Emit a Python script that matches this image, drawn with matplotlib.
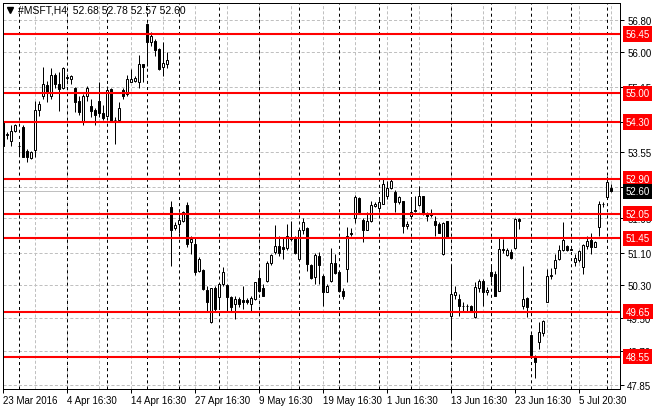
import matplotlib
matplotlib.use("Agg")
import matplotlib.pyplot as plt
import matplotlib.transforms as mtransforms
from matplotlib.lines import Line2D

plt.rcParams['font.family'] = ['Liberation Sans', 'DejaVu Sans']
plt.rcParams['lines.scale_dashes'] = False

# H4 candles, one per bar index
opens = [54.29, 53.98, 53.84, 54.08, 53.72, 54.17, 53.58, 53.41, 53.62, 54.59,
         54.94, 55.20, 54.94, 55.45, 55.23, 55.12, 55.38, 55.35, 55.14, 54.82,
         54.33, 54.92, 54.68, 54.59, 54.80, 54.51, 54.45, 55.10, 54.35, 54.35,
         55.09, 54.98, 55.28, 55.30, 55.27, 55.71, 56.69, 56.26, 56.29, 56.08,
         55.63, 55.72, 52.21, 51.69, 51.79, 51.88, 52.27, 51.35, 51.31, 50.64,
         50.68, 50.18, 49.39, 50.22, 50.00, 50.33, 50.31, 50.02, 49.84, 49.96,
         49.94, 49.94, 49.84, 49.96, 50.47, 50.22, 50.41, 50.84, 51.12, 51.27,
         51.23, 51.20, 51.45, 51.45, 50.94, 51.64, 51.69, 50.79, 50.49, 51.02,
         50.52, 50.14, 50.41, 50.84, 50.62, 50.17, 50.70, 51.58, 51.94, 52.43,
         51.90, 51.66, 51.88, 52.23, 52.18, 52.30, 52.49, 52.67, 52.59, 52.33,
         52.35, 51.74, 51.99, 52.15, 52.26, 52.48, 52.04, 52.06, 51.88, 51.81,
         51.06, 51.86, 49.55, 50.06, 49.96, 49.80, 49.78, 49.80, 49.51, 50.22,
         50.41, 50.13, 50.62, 50.57, 50.17, 51.19, 51.04, 51.12, 51.20, 51.92,
         49.78, 49.99, 49.08, 48.55, 48.90, 49.13, 49.90, 50.52, 50.71, 50.93,
         51.15, 51.27, 51.17, 50.86, 50.92, 50.75, 51.27, 51.41, 51.24, 51.72,
         52.28, 52.47, 52.68]
highs = [54.33, 54.06, 54.22, 54.25, 53.76, 54.22, 53.63, 53.59, 54.82, 54.82,
         55.65, 55.31, 55.61, 55.50, 55.51, 55.63, 55.41, 55.45, 55.16, 54.94,
         54.98, 55.17, 54.86, 54.65, 55.28, 54.70, 55.17, 55.14, 54.41, 54.78,
         55.14, 55.45, 55.59, 55.43, 55.94, 55.72, 56.72, 56.49, 56.33, 56.10,
         56.25, 56.00, 52.37, 51.84, 52.10, 52.12, 52.33, 51.51, 51.45, 50.98,
         50.70, 50.29, 50.24, 50.29, 50.35, 50.74, 50.33, 50.04, 50.04, 50.00,
         50.29, 49.98, 50.04, 50.39, 50.66, 50.33, 50.90, 51.06, 51.77, 51.51,
         51.47, 51.79, 51.88, 51.51, 51.68, 51.94, 51.72, 50.82, 51.09, 51.12,
         50.57, 50.33, 51.20, 51.06, 50.66, 50.22, 51.72, 51.69, 52.51, 52.45,
         51.94, 52.08, 52.37, 52.33, 52.45, 52.90, 52.86, 52.92, 52.64, 52.49,
         52.37, 51.88, 52.45, 52.49, 52.72, 52.49, 52.08, 52.17, 52.00, 51.84,
         51.84, 51.88, 50.78, 50.29, 50.09, 49.90, 49.84, 49.81, 50.37, 50.45,
         50.45, 50.25, 50.82, 50.66, 51.47, 51.43, 51.20, 51.19, 51.94, 51.94,
         50.78, 50.00, 49.11, 48.60, 49.39, 49.46, 50.70, 50.71, 51.06, 51.29,
         51.84, 51.29, 51.19, 51.06, 51.16, 51.31, 51.51, 51.59, 51.39, 52.35,
         52.34, 52.98, 52.78]
lows = [53.70, 53.88, 53.72, 54.06, 53.47, 53.43, 53.32, 53.39, 53.43, 54.45,
        54.87, 54.78, 54.86, 55.12, 54.57, 55.10, 55.33, 55.23, 54.53, 54.47,
        54.22, 54.82, 54.41, 54.22, 54.41, 54.35, 54.41, 54.29, 53.76, 54.33,
        54.87, 54.94, 55.27, 55.27, 55.14, 55.27, 55.67, 56.16, 55.92, 55.57,
        55.41, 55.61, 50.76, 51.64, 51.59, 51.84, 51.23, 51.06, 50.55, 50.62,
        50.18, 49.68, 49.37, 49.68, 49.72, 50.29, 49.64, 49.65, 49.47, 49.76,
        49.72, 49.84, 49.68, 49.95, 50.14, 50.03, 50.39, 50.79, 51.06, 51.02,
        50.94, 51.15, 51.39, 51.06, 50.90, 51.55, 50.66, 50.45, 50.33, 50.33,
        49.80, 50.13, 50.37, 50.57, 50.14, 49.96, 50.39, 51.51, 51.82, 52.06,
        51.35, 51.64, 51.84, 52.21, 52.10, 52.29, 52.41, 52.66, 52.08, 52.29,
        51.59, 51.68, 51.92, 52.08, 52.23, 52.02, 51.86, 51.96, 51.51, 51.58,
        51.04, 51.47, 48.98, 49.96, 49.55, 49.68, 49.64, 49.64, 49.49, 50.13,
        49.80, 50.06, 50.37, 50.03, 50.17, 51.10, 51.01, 50.94, 51.19, 51.68,
        49.72, 49.51, 48.53, 48.02, 48.74, 49.05, 49.88, 50.45, 50.57, 50.92,
        51.13, 51.13, 51.15, 50.78, 50.88, 50.57, 51.19, 51.06, 51.28, 51.51,
        52.21, 52.45, 52.57]
closes = [53.72, 53.99, 54.08, 54.22, 53.71, 53.45, 53.43, 53.55, 54.59, 54.74,
          55.23, 55.04, 55.45, 55.23, 55.10, 55.61, 55.38, 55.43, 54.78, 54.53,
          54.94, 55.12, 54.57, 54.47, 54.52, 54.40, 55.09, 54.33, 54.34, 54.65,
          54.94, 55.36, 55.36, 55.38, 55.72, 55.64, 56.26, 56.39, 56.07, 55.59,
          55.74, 55.81, 51.66, 51.77, 51.90, 52.10, 51.31, 51.43, 50.62, 50.94,
          50.21, 49.90, 50.22, 49.72, 50.33, 50.62, 50.00, 49.76, 49.96, 49.84,
          49.88, 49.90, 49.98, 50.37, 50.17, 50.04, 50.84, 51.04, 51.25, 51.10,
          51.19, 51.51, 51.42, 51.08, 51.64, 51.84, 50.82, 50.47, 51.04, 50.79,
          50.14, 50.29, 50.84, 50.60, 50.17, 50.03, 51.51, 51.55, 52.45, 52.08,
          51.66, 51.88, 52.26, 52.29, 52.33, 52.78, 52.67, 52.84, 52.33, 52.45,
          51.74, 51.80, 52.10, 52.12, 52.48, 52.04, 52.00, 52.02, 51.77, 51.59,
          51.82, 51.47, 50.09, 50.13, 49.78, 49.79, 49.78, 49.65, 50.25, 50.41,
          50.14, 50.19, 50.53, 50.04, 51.19, 51.15, 51.15, 50.96, 51.92, 51.88,
          49.96, 49.76, 48.58, 48.41, 49.15, 49.43, 50.52, 50.55, 50.92, 51.15,
          51.41, 51.16, 51.17, 50.97, 51.13, 51.28, 51.37, 51.24, 51.35, 52.29,
          52.29, 52.82, 52.60]

time_labels = ['23 Mar 2016', '4 Apr 16:30', '14 Apr 16:30', '27 Apr 16:30',
               '9 May 16:30', '19 May 16:30', '1 Jun 16:30', '13 Jun 16:30',
               '23 Jun 16:30', '5 Jul 20:30']
label_bars = [0, 16, 32, 48, 64, 80, 96, 112, 128, 144]
week_bars = [4, 16, 26, 36, 44, 54, 64, 74, 84, 94, 102, 112, 122, 132, 142, 151]
grid_prices = [56.80, 56.00, 55.15, 54.30, 53.55, 52.70, 51.95, 51.10,
               50.30, 49.50, 48.70, 47.85]
level_prices = [56.45, 55.00, 54.30, 52.90, 52.05, 51.45, 49.65, 48.55]
symbol = '#MSFT,H4'

W, H = 660, 410
fig = plt.figure(figsize=(W / 100, H / 100), dpi=100)
fig.patch.set_facecolor('white')
# plot frame in pixels: x 2.7..620.3, y 3.5..390
ax = fig.add_axes([2.7 / W, (H - 390) / H, 617.6 / W, 386.5 / H])
ax.set_xlim(-0.15, 154.25)
ax.set_ylim(47.759, 57.221)

px = 0.72  # one pixel in points
gray = '#c0c0c0'

# grid
for b in range(8, len(opens), 8):
    ax.axvline(b, color=gray, lw=px, dashes=(2.2, 1.5), zorder=1)
for p in grid_prices:
    ax.axhline(p, color=gray, lw=px, dashes=(2.2, 1.5), zorder=1)
# week separators
for b in week_bars:
    ax.axvline(b, color='black', lw=px, dashes=(2.2, 2.2), zorder=1.5)

last_price = closes[-1]
ax.axhline(last_price, color=gray, lw=px, zorder=1.6)

# candles
n = len(opens)
idx = list(range(n))
ax.vlines(idx, lows, highs, color='black', lw=px, zorder=2)
bottoms = [min(o, c) for o, c in zip(opens, closes)]
heights = [max(abs(c - o), 0.005) for o, c in zip(opens, closes)]
fills = ['white' if c >= o else 'black' for o, c in zip(opens, closes)]
ax.bar(idx, heights, bottom=bottoms, width=0.58, color=fills,
       edgecolor='black', linewidth=px, zorder=3)

# horizontal levels
trans = mtransforms.blended_transform_factory(ax.transAxes, ax.transData)
lx = (625.5 - 2.7) / 617.6
for p in level_prices:
    ax.axhline(p, color='red', lw=1.5, zorder=4)
    ax.text(lx, p, f'{p:.2f}', transform=trans, color='white', fontsize=7,
            va='center', ha='left', clip_on=False, zorder=6,
            bbox=dict(boxstyle='square,pad=0.28', fc='red', ec='none'))
ax.text(lx, last_price, f'{last_price:.2f}', transform=trans, color='white',
        fontsize=7, va='center', ha='left', clip_on=False, zorder=6,
        bbox=dict(boxstyle='square,pad=0.28', fc='black', ec='none'))

# axes
for s in ax.spines.values():
    s.set_color('black')
    s.set_linewidth(px)
    s.set_zorder(5)
ax.yaxis.tick_right()
ax.set_yticks(grid_prices)
# a level box covers the grid label at the same price
ax.set_yticklabels(['' if p in level_prices else f'{p:.2f}' for p in grid_prices])
ax.set_xticks(label_bars)
ax.set_xticklabels(time_labels)
for lbl in ax.get_xticklabels():
    lbl.set_horizontalalignment('left')
ax.tick_params(axis='y', direction='out', length=3, width=px, pad=2,
               labelsize=7, colors='black')
ax.tick_params(axis='x', direction='out', length=3, width=px, pad=1.5,
               labelsize=7, colors='black')

# title line
ty = 1 - 10.7 / H
fig.add_artist(Line2D([9.7 / W], [ty], marker='v', markersize=4.5,
                      color='black', transform=fig.transFigure))
ohlc = f'{opens[-1]:.2f} {highs[-1]:.2f} {lows[-1]:.2f} {closes[-1]:.2f}'
fig.text(18 / W, ty, f'{symbol}  {ohlc}', fontsize=7.5, va='center',
         ha='left', color='black')

fig.savefig('out.png', dpi=100)
